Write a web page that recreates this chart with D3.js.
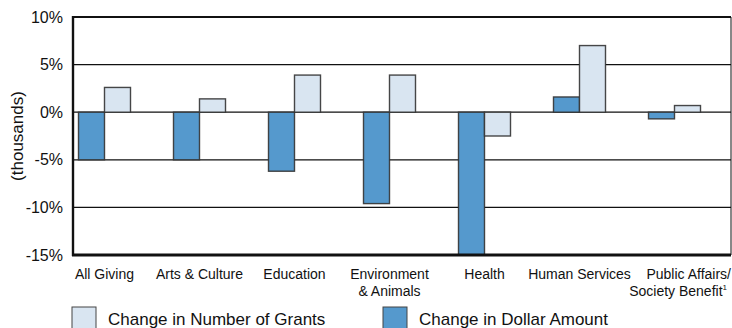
<!DOCTYPE html>
<html><head><meta charset="utf-8">
<script src="https://cdn.jsdelivr.net/npm/d3@7/dist/d3.min.js"></script>
<style>body{margin:0;background:#fff}svg{display:block}text{font-family:"Liberation Sans",Arial,sans-serif;fill:#111}</style>
</head><body><svg id="c" width="732" height="328"></svg>
<script>
const categories = ["All Giving","Arts & Culture","Education","Environment\n& Animals","Health","Human Services","Public Affairs/\nSociety Benefit"];
const grants = [2.6, 1.4, 3.9, 3.9, -2.5, 7.0, 0.7];
const dollars = [-5.0, -5.0, -6.2, -9.6, -15.0, 1.6, -0.7];
const yTicks = [10, 5, 0, -5, -10, -15];
const seriesNames = ["Change in Number of Grants","Change in Dollar Amount"];
const colors = {grants:"#d9e5f1", dollars:"#5599cd"};

const svg = d3.select("#c");
const L = 73, R = 731, T = 17, B = 255;
const y = d3.scaleLinear().domain([-15, 10]).range([B, T]);
const x = d3.scaleBand().domain(categories).range([57, 722]).padding(0);
const sub = d3.scaleBand().domain(["dollars","grants"]).range([-26, 26]).padding(0);

// gridlines
svg.append("g").selectAll("line").data([5,0,-5,-10]).join("line")
  .attr("x1", L).attr("x2", R).attr("y1", d=>y(d)).attr("y2", d=>y(d))
  .attr("stroke", "#111").attr("stroke-width", 1.2);

// bars
const g = svg.append("g");
categories.forEach((c,i)=>{
  const cx = x(c) + x.bandwidth()/2;
  [["dollars", dollars[i]], ["grants", grants[i]]].forEach(([k,v])=>{
    g.append("rect")
      .attr("x", cx + sub(k)).attr("width", sub.bandwidth())
      .attr("y", y(Math.max(0,v))).attr("height", Math.abs(y(v)-y(0)))
      .attr("fill", colors[k]).attr("stroke", "#333").attr("stroke-width", 1.4)
      .attr("stroke-opacity", 0.9);
  });
});

// frame
svg.append("line").attr("x1",L).attr("x2",R).attr("y1",T).attr("y2",T).attr("stroke","#111").attr("stroke-width",2.2);
svg.append("line").attr("x1",L-1).attr("x2",R).attr("y1",B).attr("y2",B).attr("stroke","#111").attr("stroke-width",3);
svg.append("line").attr("x1",L).attr("x2",L).attr("y1",T-1).attr("y2",B+1).attr("stroke","#111").attr("stroke-width",2.4);
svg.append("line").attr("x1",R).attr("x2",R).attr("y1",T).attr("y2",B).attr("stroke","#111").attr("stroke-width",1);

// y axis labels
const yAxis = d3.axisLeft(y).tickValues(yTicks).tickSize(0).tickPadding(10).tickFormat(d=>d+"%");
const ya = svg.append("g").attr("transform",`translate(${L},0)`).call(yAxis);
ya.select(".domain").remove();
ya.selectAll("text").attr("font-size",16).attr("font-family","Liberation Sans, Arial, sans-serif").attr("fill","#111");

svg.append("text").attr("transform","translate(23,136) rotate(-90)").attr("text-anchor","middle")
  .attr("font-size",17).text("(thousands)");

// x labels
categories.forEach((c,i)=>{
  const last = i === categories.length-1;
  const cx = last ? R : x(c) + x.bandwidth()/2;
  const lines = c.split("\n");
  const t = svg.append("text").attr("text-anchor", last ? "end" : "middle").attr("font-size",14).attr("x",cx).attr("y",279);
  lines.forEach((ln,j)=>{
    t.append("tspan").attr("x", last && ln==="Society Benefit" ? cx-4 : cx).attr("dy", j?16.5:0).text(ln);
    if (ln === "Society Benefit") t.append("tspan").attr("font-size",8).attr("dy",-6).text("1");
  });
});

// legend
const leg = [[seriesNames[0], colors.grants, 72], [seriesNames[1], colors.dollars, 383]];
leg.forEach(([name,col,lx])=>{
  svg.append("rect").attr("x",lx).attr("y",307).attr("width",24).attr("height",24)
    .attr("fill",col).attr("stroke","#444").attr("stroke-width",1);
  svg.append("text").attr("x",lx+36).attr("y",325).attr("font-size",17).text(name);
});
</script></body></html>
